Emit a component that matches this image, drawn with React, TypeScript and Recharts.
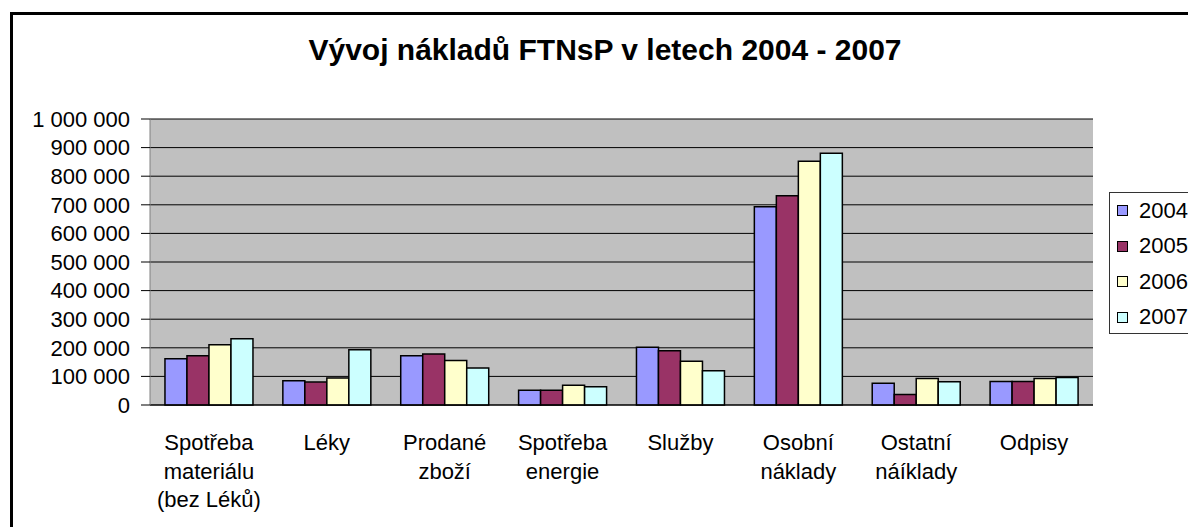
import { BarChart, Bar, XAxis, YAxis, CartesianGrid } from "recharts";

const categories = [
  "Spotřeba\nmateriálu\n(bez Léků)",
  "Léky",
  "Prodané\nzboží",
  "Spotřeba\nenergie",
  "Služby",
  "Osobní\nnáklady",
  "Ostatní\nnáíklady",
  "Odpisy",
];

const years = ["2004", "2005", "2006", "2007"];
const colors = ["#9999FF", "#993366", "#FFFFCC", "#CCFFFF"];

const v2004 = [162000, 85000, 172000, 52000, 202000, 693000, 76000, 82000];
const v2005 = [172000, 80000, 178000, 52000, 190000, 732000, 37000, 82000];
const v2006 = [211000, 94000, 156000, 69000, 153000, 852000, 93000, 93000];
const v2007 = [232000, 193000, 129000, 64000, 120000, 880000, 81000, 96000];

const yTicks = [0, 100000, 200000, 300000, 400000, 500000, 600000, 700000, 800000, 900000, 1000000];

const title = "Vývoj nákladů FTNsP v letech 2004 - 2007";

const series = [v2004, v2005, v2006, v2007];
const data = categories.map((name, i) => {
  const row: Record<string, string | number> = { name };
  years.forEach((y, k) => (row[y] = series[k][i]));
  return row;
});
const edgeTicks = [...categories.map((_, i) => i), categories.length];

const FONT = "'Liberation Sans', Arial, sans-serif";

const fmt = (v: number) => String(v).replace(/\B(?=(\d{3})+(?!\d))/g, " ");

function CategoryTick(props: any) {
  const { x, y, payload } = props;
  const lines = String(payload.value).split("\n");
  return (
    <text x={x} y={y} textAnchor="middle" fontSize={22} fontFamily={FONT} fill="#000">
      {lines.map((l, i) => (
        <tspan key={i} x={x} dy={i === 0 ? 45 : 28.5}>
          {l}
        </tspan>
      ))}
    </text>
  );
}

export default function App() {
  return (
    <div style={{ position: "absolute", left: 0, top: 0, width: 1188, height: 527, overflow: "hidden", background: "#fff" }}>
      <div
        style={{
          position: "absolute",
          left: 10,
          top: 12,
          width: 1300,
          height: 600,
          border: "3px solid #000",
          boxSizing: "border-box",
        }}
      />
      <div style={{ position: "absolute", left: 0, top: 0 }}>
        <BarChart
          width={1188}
          height={527}
          data={data}
          margin={{ top: 119, right: 95, bottom: 12, left: 0 }}
          barGap={0}
          barCategoryGap="12.7%"
        >
          <CartesianGrid fill="#C0C0C0" stroke="#000" vertical={false} />
          <XAxis
            xAxisId="edge"
            type="number"
            domain={[0, categories.length]}
            ticks={edgeTicks}
            allowDataOverflow
            interval={0}
            height={0}
            axisLine={false}
            tickLine={{ stroke: "#000" }}
            tickSize={8}
            tick={() => <g />}
          />
          <XAxis
            dataKey="name"
            height={110}
            interval={0}
            tickLine={false}
            tickSize={0}
            tickMargin={0}
            axisLine={{ stroke: "#000" }}
            tick={<CategoryTick />}
          />
          <YAxis
            width={150}
            domain={[0, 1000000]}
            ticks={yTicks}
            interval={0}
            tickFormatter={fmt}
            tickSize={9}
            tickMargin={11}
            tickLine={{ stroke: "#000" }}
            axisLine={{ stroke: "#808080" }}
            tick={{ fontSize: 22, fill: "#000", fontFamily: FONT }}
          />
          <YAxis
            yAxisId="r"
            orientation="right"
            width={0}
            domain={[0, 1000000]}
            allowDataOverflow
            tick={false}
            tickLine={false}
            axisLine={{ stroke: "#808080" }}
          />
          {years.map((y, k) => (
            <Bar key={y} dataKey={y} fill={colors[k]} stroke="#000" strokeWidth={1.5} isAnimationActive={false} />
          ))}
        </BarChart>
      </div>
      <div
        style={{
          position: "absolute",
          left: 0,
          top: 34.5,
          width: 1210,
          textAlign: "center",
          fontFamily: FONT,
          fontWeight: "bold",
          fontSize: 30,
          lineHeight: "30px",
          color: "#000",
        }}
      >
        {title}
      </div>
      <div
        style={{
          position: "absolute",
          left: 1109,
          top: 192,
          width: 120,
          height: 142,
          border: "1px solid #333",
          boxSizing: "border-box",
          background: "#fff",
          fontFamily: FONT,
          fontSize: 22,
        }}
      >
        {years.map((y, k) => (
          <div
            key={y}
            style={{ position: "absolute", left: 7, top: 1.75 + k * 35.5, height: 32, display: "flex", alignItems: "center" }}
          >
            <span
              style={{
                display: "inline-block",
                width: 11,
                height: 11,
                background: colors[k],
                border: "1px solid #000",
                boxSizing: "border-box",
                marginRight: 11,
              }}
            />
            <span style={{ lineHeight: "22px" }}>{y}</span>
          </div>
        ))}
      </div>
    </div>
  );
}
